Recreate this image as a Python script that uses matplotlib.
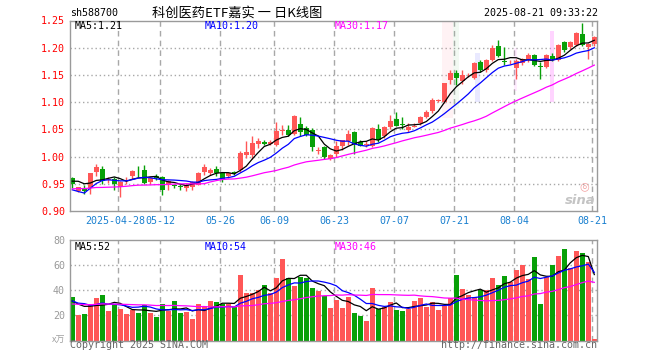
# -------------------- Modules --------------------
import numpy as np
import pandas as pd
import matplotlib
matplotlib.use("Agg")
from matplotlib import pyplot as plt


# -------------------- Data --------------------
symbol = "sh588700"
title = "科创医药ETF嘉实 一 日K线图"
stamp = "2025-08-21 09:33:22"

tick_pos = [8, 15, 25, 34, 44, 54, 64, 74, 87]
tick_labels = ["2025-04-28", "05-12", "05-26", "06-09", "06-23",
               "07-07", "07-21", "08-04", "08-21"]

# daily candles 2025-04-16 .. 2025-08-21
opens = [0.961, 0.937, 0.940, 0.943, 0.971, 0.978, 0.957, 0.958, 0.944, 0.955,
         0.964, 0.972, 0.976, 0.953, 0.965, 0.963, 0.947, 0.947, 0.946, 0.943,
         0.944, 0.948, 0.971, 0.970, 0.978, 0.970, 0.964, 0.971, 0.975, 1.002,
         1.003, 1.023, 1.026, 1.024, 1.022, 1.047, 1.048, 1.042, 1.060, 1.052,
         1.049, 1.010, 1.017, 0.996, 1.005, 1.020, 1.029, 1.046, 1.027, 1.022,
         1.019, 1.051, 1.037, 1.054, 1.069, 1.060, 1.048, 1.055, 1.061, 1.073,
         1.083, 1.103, 1.101, 1.140, 1.154, 1.138, 1.149, 1.144, 1.174, 1.159,
         1.177, 1.203, 1.175, 1.173, 1.163, 1.171, 1.180, 1.186, 1.166, 1.165,
         1.185, 1.177, 1.210, 1.201, 1.205, 1.226, 1.201, 1.207]
highs = [0.963, 0.945, 0.948, 0.970, 0.987, 0.983, 0.962, 0.962, 0.955, 0.962,
         0.976, 0.983, 0.985, 0.963, 0.968, 0.965, 0.957, 0.950, 0.949, 0.951,
         0.955, 0.971, 0.986, 0.979, 0.982, 0.972, 0.972, 0.974, 1.010, 1.028,
         1.037, 1.035, 1.030, 1.031, 1.063, 1.058, 1.058, 1.077, 1.072, 1.056,
         1.052, 1.017, 1.020, 1.004, 1.028, 1.031, 1.048, 1.047, 1.031, 1.028,
         1.054, 1.060, 1.057, 1.077, 1.081, 1.072, 1.061, 1.061, 1.075, 1.085,
         1.107, 1.106, 1.135, 1.159, 1.159, 1.159, 1.153, 1.173, 1.177, 1.179,
         1.205, 1.214, 1.202, 1.177, 1.179, 1.181, 1.190, 1.188, 1.174, 1.189,
         1.190, 1.207, 1.212, 1.213, 1.228, 1.245, 1.209, 1.222]
lows = [0.942, 0.935, 0.931, 0.931, 0.964, 0.950, 0.952, 0.938, 0.926, 0.950,
        0.958, 0.962, 0.950, 0.950, 0.957, 0.930, 0.938, 0.943, 0.939, 0.937,
        0.938, 0.947, 0.967, 0.966, 0.965, 0.953, 0.960, 0.966, 0.972, 0.998,
        0.995, 1.015, 1.021, 1.021, 1.020, 1.040, 1.038, 1.039, 1.038, 1.038,
        1.010, 1.004, 0.996, 0.993, 1.000, 1.012, 1.021, 1.005, 1.019, 1.018,
        1.018, 1.027, 1.034, 1.051, 1.056, 1.050, 1.045, 1.054, 1.058, 1.071,
        1.080, 1.101, 1.099, 1.133, 1.132, 1.133, 1.146, 1.143, 1.156, 1.155,
        1.175, 1.183, 1.168, 1.170, 1.143, 1.168, 1.174, 1.166, 1.143, 1.163,
        1.175, 1.175, 1.193, 1.197, 1.204, 1.204, 1.180, 1.203]
closes = [0.950, 0.944, 0.937, 0.969, 0.981, 0.955, 0.958, 0.950, 0.953, 0.957,
          0.973, 0.971, 0.952, 0.961, 0.961, 0.939, 0.955, 0.946, 0.945, 0.948,
          0.953, 0.970, 0.980, 0.975, 0.969, 0.959, 0.969, 0.969, 1.007, 1.008,
          1.025, 1.029, 1.024, 1.027, 1.047, 1.049, 1.040, 1.075, 1.045, 1.040,
          1.017, 1.012, 1.000, 1.002, 1.020, 1.031, 1.041, 1.024, 1.020, 1.024,
          1.053, 1.030, 1.055, 1.066, 1.057, 1.058, 1.054, 1.057, 1.072, 1.081,
          1.104, 1.104, 1.135, 1.154, 1.144, 1.150, 1.150, 1.171, 1.159, 1.177,
          1.199, 1.185, 1.174, 1.174, 1.176, 1.179, 1.186, 1.168, 1.165, 1.186,
          1.180, 1.205, 1.195, 1.210, 1.227, 1.205, 1.207, 1.219]
# volume, 10k lots
volumes = [34.9, 20.3, 21.1, 29.1, 34.1, 36.3, 23.5, 28.8, 25.1, 21.4,
           24.3, 22.2, 28.3, 22.2, 19.0, 29.1, 23.8, 31.5, 22.2, 23.0,
           17.1, 29.1, 27.8, 31.5, 30.9, 29.1, 29.1, 27.0, 52.2, 37.8,
           37.8, 40.0, 44.2, 37.8, 50.1, 65.2, 50.1, 43.4, 50.8, 50.1,
           42.1, 39.7, 35.5, 26.2, 32.3, 26.2, 34.9, 22.2, 19.8, 15.5,
           42.1, 25.1, 27.0, 30.9, 24.3, 23.5, 25.1, 31.5, 34.1, 27.0,
           30.9, 24.3, 27.5, 33.6, 52.2, 41.0, 36.3, 34.9, 40.0, 40.2,
           50.1, 44.2, 51.4, 46.4, 56.2, 60.2, 49.0, 66.5, 29.1, 50.8,
           60.2, 67.3, 72.9, 58.0, 71.3, 69.4, 62.5, 1.2]

# sessions before the window, only used to warm up the moving averages
prior_close = [0.930, 0.935, 0.942, 0.948, 0.951, 0.946, 0.940, 0.936, 0.933, 0.938,
               0.944, 0.949, 0.952, 0.947, 0.941, 0.936, 0.931, 0.934, 0.940, 0.958,
               0.975, 0.965, 0.880, 0.895, 0.900, 0.945, 0.960, 0.962, 0.957]
prior_volume = [26, 29, 31, 27, 25, 28, 30, 27, 26, 29,
                28, 27, 30, 29, 26, 27, 28, 29, 27, 27,
                38.0, 25.0, 42.0, 28.0, 24.5, 33.0, 30.0, 28.6, 31.0]

RED = "#ff5757"
GREEN = "#08a008"
GRID = "#a8a8a8"
MONO = "DejaVu Sans Mono"
CJK = ["Noto Sans CJK SC", "DejaVu Sans"]
MA_COLORS = ["black", "#0000ff", "#ff00ff"]
MA_NAMES = ["MA5", "MA10", "MA30"]
W, H = 660, 360


# -------------------- Helpers --------------------
def _fx(x: float) -> float:
    return x / W


def _fy(y: float) -> float:
    return 1 - y / H


def _moving(values: list, prior: list, n: int) -> np.ndarray:
    """Rolling mean over the window, seeded with earlier sessions"""
    s = pd.Series(list(prior) + list(values), dtype=float)
    return s.rolling(n, min_periods=1).mean().to_numpy()[len(prior):]


def _frame(ax) -> None:
    """Grey frame, dashed date lines, no ticks"""
    for sp in ax.spines.values():
        sp.set_color("#9a9a9a")
        sp.set_linewidth(1)
    ax.set_xlim(-0.383, 87.45)
    for p in tick_pos:
        ax.axvline(p - 0.3, color=GRID, lw=1, ls=(0, (4, 3)), zorder=0)
    ax.tick_params(length=0)
    ax.set_xticks([])


def _ma_lines(ax, x, series) -> None:
    for vals, col in zip(series, MA_COLORS):
        ax.plot(x, vals, color=col, lw=0.9, zorder=3)


# -------------------- Plot --------------------
def draw() -> None:
    o, h, l, c = (np.array(a) for a in (opens, highs, lows, closes))
    v = np.array(volumes)
    x = np.arange(len(c))
    colors = np.where(c >= o, RED, GREEN)

    fig = plt.figure(figsize=(W / 100, H / 100), dpi=100)
    ax_p = fig.add_axes([_fx(70), _fy(211), _fx(527), 190.5 / H])
    ax_v = fig.add_axes([_fx(70), _fy(340.5), _fx(527), 100.5 / H])

    # price panel
    _frame(ax_p)
    ax_p.set_ylim(0.90, 1.25)
    for yv in [0.95, 1.00, 1.05, 1.10, 1.15, 1.20]:
        ax_p.axhline(yv, color=GRID, lw=1, ls=(0, (1, 2)), zorder=0)

    # faint cloud smudges of the source image
    for (a, b, y0, y1, col, al) in [(61.6, 63.4, 1.07, 1.25, "#ff9db0", 0.13),
                                    (63.4, 64.4, 1.09, 1.25, "#9ad09a", 0.12),
                                    (67.2, 67.9, 1.10, 1.19, "#8888ff", 0.18),
                                    (73.6, 74.1, 1.12, 1.20, "#ff88ff", 0.15),
                                    (79.6, 80.3, 1.10, 1.23, "#ff66ff", 0.28)]:
        ax_p.fill_between([a, b], y0, y1, color=col, alpha=al, lw=0, zorder=0.5)

    ax_p.vlines(x, l, h, colors=colors, lw=1, zorder=2)
    body = np.maximum(np.abs(c - o), 0.0012)
    ax_p.bar(x, body, bottom=np.minimum(o, c), width=0.82, color=colors,
             linewidth=0, zorder=2)

    ma_p = [_moving(closes, prior_close, n) for n in (5, 10, 30)]
    _ma_lines(ax_p, x, ma_p)

    ax_p.set_yticks([0.90, 0.95, 1.00, 1.05, 1.10, 1.15, 1.20, 1.25])
    ax_p.set_yticklabels([f"{t:.2f}" for t in ax_p.get_yticks()],
                         color="#ff0000", family=MONO, fontsize=7.2)
    ax_p.tick_params(axis="y", pad=3.6)

    # date labels under the price panel; first one nudged left as in the source
    for k, (p, lab) in enumerate(zip(tick_pos, tick_labels)):
        dx = -3 if k == 0 else 0
        ax_p.annotate(lab, xy=(p - 0.3, 0), xycoords=("data", "axes fraction"),
                      xytext=(dx, -5.5), textcoords="offset pixels",
                      ha="center", va="top", color="#1a80d0",
                      family=MONO, fontsize=7.2)

    fig.text(_fx(596), _fy(200), "sina", fontsize=9.5, fontweight="bold",
             style="italic", color="#c4c4c4", ha="right", va="center",
             family="DejaVu Sans")
    fig.text(_fx(584), _fy(186), "◎", fontsize=8, color="#f3a0a0",
             ha="center", va="center", family="DejaVu Sans")

    # volume panel
    _frame(ax_v)
    ax_v.set_ylim(0, 80)
    for yv in [20, 40, 60]:
        ax_v.axhline(yv, color=GRID, lw=1, ls=(0, (1, 2)), zorder=0)
    ax_v.bar(x, v, width=0.82, color=colors, linewidth=0, zorder=2)
    ma_v = [_moving(volumes, prior_volume, n) for n in (5, 10, 30)]
    _ma_lines(ax_v, x, ma_v)
    ax_v.set_yticks([20, 40, 60, 80])
    ax_v.set_yticklabels(["20", "40", "60", "80"], color="#9a9a9a",
                         family=MONO, fontsize=7.2)
    ax_v.tick_params(axis="y", pad=3.6)

    # MA captions
    for (yy, vals, fmt) in [(26.3, ma_p, "{:.2f}"), (246.5, ma_v, "{:.0f}")]:
        for vals_i, col, nm, tx in zip(vals, MA_COLORS, MA_NAMES, [75, 205, 335]):
            fig.text(_fx(tx), _fy(yy), f"{nm}:" + fmt.format(vals_i[-1]), color=col,
                     family=MONO, fontsize=7.2, va="center", ha="left")

    # header and footer
    fig.text(_fx(70), _fy(13.5), symbol, family=MONO, fontsize=7.2, va="center")
    fig.text(_fx(237), _fy(13.5), title, family=CJK, fontsize=9.5,
             va="center", ha="center")
    fig.text(_fx(598), _fy(13.5), stamp, family=MONO, fontsize=7.2,
             va="center", ha="right")
    fig.text(_fx(65), _fy(340), "x万", family=CJK, fontsize=6.5, color="#a0a0a0",
             va="center", ha="right", style="italic")
    fig.text(_fx(70), _fy(345.5), "Copyright 2025 SINA.COM", family=MONO,
             fontsize=7.2, color="#666666", va="center")
    fig.text(_fx(597), _fy(345.5), "http://finance.sina.com.cn", family=MONO,
             fontsize=7.2, color="#666666", va="center", ha="right")

    fig.savefig("out.png", dpi=100, facecolor="white")


# -------------------- Main -----------------------
def main():
    draw()


if __name__ == "__main__":
    main()
